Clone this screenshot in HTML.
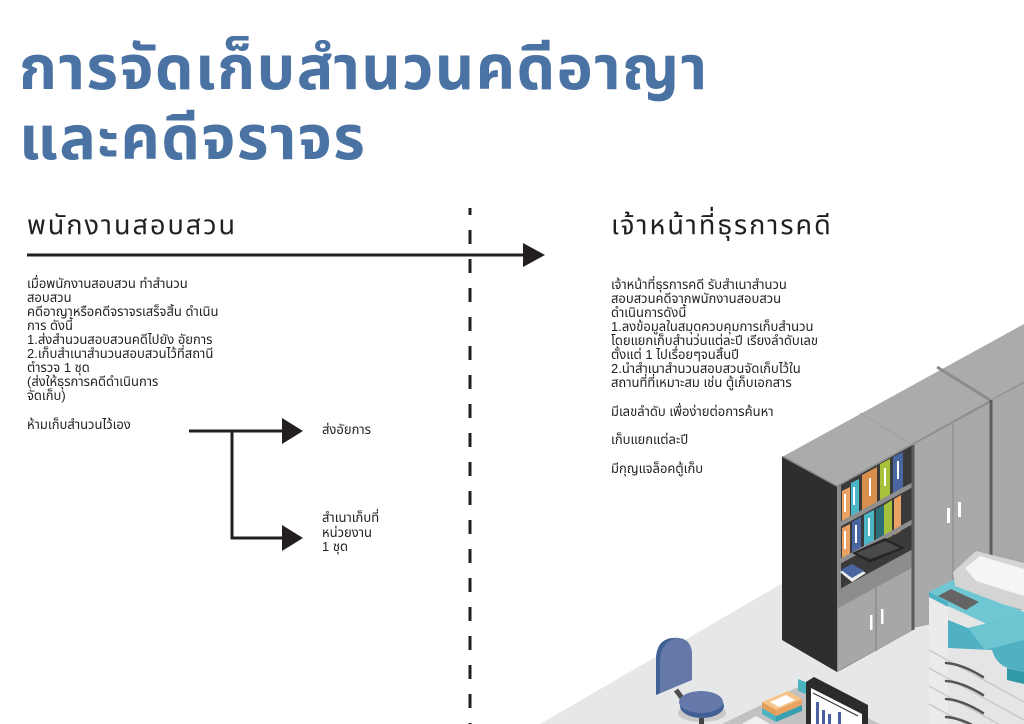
<!DOCTYPE html>
<html><head><meta charset="utf-8">
<style>
html,body{margin:0;padding:0;background:#fff;}
#wrap{position:relative;width:1024px;height:724px;overflow:hidden;background:#fff;
font-family:"Liberation Sans","Noto Sans Thai","Noto Sans Thai Looped","Garuda","Loma","Tlwg Typo","DejaVu Sans",sans-serif;color:#231f20;}
.t{position:absolute;white-space:nowrap;}
.title{left:19px;font-size:61px;color:#4a73a3;font-weight:bold;line-height:72px;height:72px;letter-spacing:1.4px;}
.h{font-size:27px;line-height:30px;height:30px;color:#231f20;letter-spacing:2px;}
.b{font-size:13px;line-height:14px;height:14px;}
svg{position:absolute;left:0;top:0;}
</style></head><body>
<div id="wrap">
<svg width="1024" height="724" viewBox="0 0 1024 724">
 <!-- floor -->
 <polygon points="540,724 1024,443 1024,724" fill="#e6e7e8"/>
 <!-- cabinet top -->
 <polygon points="782,457 1024,324 1024,383 837,487" fill="#ababab"/>
 <line x1="782" y1="457" x2="837" y2="487" stroke="#8a8a8a" stroke-width="3"/>
 <line x1="837" y1="487" x2="1024" y2="383" stroke="#8f8f8f" stroke-width="3"/>
 <line x1="860" y1="413" x2="913" y2="445" stroke="#a0a0a0" stroke-width="1"/>
 <line x1="937" y1="367" x2="990" y2="400" stroke="#8c8c8c" stroke-width="3"/>
 <!-- bookcase dark side -->
 <polygon points="782,457 837,487 837,672 782,640" fill="#2e2e2e"/>
 <!-- bookcase interior -->
 <polygon points="837,487 913,445 913,630 837,672" fill="#3a3a3a"/>
 <polygon points="837,487 841,485 841,670 837,672" fill="#8a8a8a"/>
 <!-- row 1 binders -->
 <g>
  <polygon points="842,491 850,487 850,519 842,523" fill="#e9a164"/>
  <rect x="844" y="494" width="2" height="18" fill="#fff"/>
  <polygon points="851,483 859,479 859,514 851,518" fill="#4db6c6"/>
  <rect x="853" y="487" width="2" height="18" fill="#fff"/>
  <polygon points="862,475 877,467 877,503 862,511" fill="#d88f4e"/>
  <rect x="869" y="478" width="2" height="18" fill="#fff"/>
  <polygon points="880,464 890,459 890,496 880,501" fill="#a6c23b"/>
  <rect x="884" y="468" width="2" height="18" fill="#fff"/>
  <polygon points="893,457 903,452 903,489 893,494" fill="#4a66a0"/>
  <rect x="897" y="461" width="2" height="18" fill="#fff"/>
 </g>
 <polygon points="838,523 913,482 913,487 838,528" fill="#8e8e8e"/>
 <!-- row 2 binders -->
 <g>
  <polygon points="842,528 850,524 850,556 842,560" fill="#e9a164"/>
  <rect x="844" y="531" width="2" height="18" fill="#fff"/>
  <polygon points="852,522 861,517 861,550 852,555" fill="#4a66a0"/>
  <rect x="855" y="525" width="2" height="18" fill="#fff"/>
  <polygon points="864,515 874,510 874,545 864,550" fill="#4db6c6"/>
  <rect x="868" y="518" width="2" height="18" fill="#fff"/>
  <polygon points="876,509 884,505 884,540 876,544" fill="#2a6f78"/>
  <polygon points="884,505 892,500 892,536 884,540" fill="#a6c23b"/>
  <polygon points="894,499 901,495 901,531 894,535" fill="#e9a164"/>
 </g>
 <polygon points="838,560 913,519 913,524 838,565" fill="#8e8e8e"/>
 <!-- row 3 -->
 <polygon points="852,553 885,538 905,548 870,563" fill="#262626"/>
 <polygon points="856,553 885,541 900,548 870,559" fill="#4a4a4a"/>
 <polygon points="840,572 852,565 866,573 852,582" fill="#eeeeee"/>
 <polygon points="841,570 852,564 864,571 852,578" fill="#4a66a0"/>
 <!-- lower shelf surface and doors -->
 <polygon points="838,590 913,549 913,567 838,608" fill="#8d8d8d"/>
 <polygon points="838,608 913,567 913,630 838,671" fill="#a7a7a7"/>
 <line x1="876" y1="588" x2="876" y2="651" stroke="#8a8a8a" stroke-width="1.5"/>
 <rect x="870" y="615" width="2.5" height="15" fill="#fff"/>
 <rect x="881" y="609" width="2.5" height="15" fill="#fff"/>
 <!-- tall cabinet -->
 <polygon points="913,445 990,403 990,612 913,628" fill="#a9a9a9"/>
 <line x1="913" y1="445" x2="913" y2="630" stroke="#5a5a5a" stroke-width="3"/>
 <line x1="953" y1="424" x2="953" y2="620" stroke="#939393" stroke-width="1.5"/>
 <rect x="947" y="508" width="3" height="15" fill="#fff"/>
 <rect x="958" y="502" width="3" height="15" fill="#fff"/>
 <!-- rightmost cabinet -->
 <polygon points="990,401 1024,383 1024,610 990,612" fill="#a8a8a8"/>
 <line x1="991" y1="400" x2="991" y2="612" stroke="#5e5e5e" stroke-width="3"/>
 <!-- copier -->
 <polygon points="929,597 950,586 1024,620 1024,724 929,724" fill="#e5e5e5"/>
 <polygon points="929,597 948,606 948,724 929,724" fill="#ebebeb"/>
 <g stroke="#c9c9c9" stroke-width="1.5">
  <line x1="929" y1="650" x2="1024" y2="702"/>
  <line x1="929" y1="668" x2="1024" y2="720"/>
  <line x1="929" y1="686" x2="1024" y2="738"/>
  <line x1="929" y1="704" x2="1024" y2="756"/>
 </g>
 <g stroke="#555" stroke-width="2.5" fill="none" stroke-linecap="round">
  <path d="M946,663 Q962,664 983,677"/>
  <path d="M946,681 Q962,682 983,695"/>
  <path d="M946,699 Q962,700 983,713"/>
  <path d="M946,717 Q962,718 983,731"/>
 </g>
 <!-- teal top plate -->
 <polygon points="929,592 953,580 1024,612 1024,626 1000,630 948,606" fill="#6ec7d3"/>
 <polygon points="929,592 948,602 948,607 929,597" fill="#4eb2c2"/>
 <polygon points="938,596 951,589 979,602 966,610" fill="#646464"/>
 <!-- teal body -->
 <path d="M948,620 L968,628 L1024,614 L1024,672 L1008,668 Q996,664 992,650 L948,648 Z" fill="#4fb1c2"/>
 <path d="M968,628 L1024,614 L1024,640 L985,650 Z" fill="#6cc5d1"/>
 <polygon points="1007,668 1024,672 1024,684 1007,680" fill="#2f9aa6"/>
 <!-- scanner -->
 <polygon points="953,572 976,551 1024,563 1024,610 1005,605 955,586" fill="#d4d4d4"/>
 <polygon points="965,568 980,556 1024,569 1024,596 976,581" fill="#f5f5f5"/>
 <!-- chair -->
 <line x1="676" y1="690" x2="688" y2="706" stroke="#4d4d4d" stroke-width="5"/>
 <path d="M656,695 L656,660 Q656,640 672,638 Q690,636 692,652 L692,680 Z" fill="#6478a9"/>
 <path d="M656,695 L656,660 Q656,640 672,638 L676,638 Q661,642 660,660 L660,693 Z" fill="#3f5f95"/>
 <ellipse cx="702" cy="713" rx="24" ry="9" fill="#c9c9c9"/>
 <ellipse cx="702" cy="706" rx="22" ry="12" fill="#3f5f95"/>
 <ellipse cx="701" cy="702" rx="22" ry="11" fill="#6478a9"/>
 <rect x="699" y="718" width="5" height="6" fill="#444"/>
 <!-- desk -->
 <polygon points="722,724 800,686 880,724" fill="#c2c2c2"/>
 <polygon points="742,724 756,716 770,724" fill="#f0f0f0"/>
 <!-- books -->
 <polygon points="762,702 788,691 802,699 776,710" fill="#f6c489"/>
 <polygon points="770,702 786,695 795,700 779,707" fill="#fff"/>
 <polygon points="762,702 776,710 776,716 762,708" fill="#e59e58"/>
 <polygon points="776,710 802,699 802,705 776,716" fill="#eba462"/>
 <polygon points="762,708 776,716 776,722 762,714" fill="#4bb3c1"/>
 <polygon points="776,716 802,705 802,711 776,722" fill="#3a9fae"/>
 <!-- monitor -->
 <polygon points="798,679 808,683 808,695 798,691" fill="#4bb3c1"/>
 <polygon points="806,682 814,677 868,705 868,724 806,724" fill="#2b2b2b"/>
 <polygon points="811,688 862,714 862,724 811,724" fill="#fff"/>
 <line x1="813" y1="693" x2="858" y2="716" stroke="#333" stroke-width="1"/>
 <g fill="#4a5f9f">
  <rect x="816" y="702" width="3" height="22"/>
  <rect x="822" y="710" width="3" height="14"/>
  <rect x="828" y="714" width="3" height="10"/>
  <rect x="838" y="712" width="3" height="12"/>
 </g>
 <!-- connectors -->
 <line x1="470" y1="208" x2="470" y2="724" stroke="#231f20" stroke-width="3" stroke-dasharray="14 15" stroke-dashoffset="7"/>
 <line x1="27" y1="255" x2="526" y2="255" stroke="#231f20" stroke-width="3"/>
 <polygon points="523,243 545,255 523,267" fill="#231f20"/>
 <line x1="189" y1="431" x2="285" y2="431" stroke="#231f20" stroke-width="3"/>
 <polygon points="282,418 303,431 282,444" fill="#231f20"/>
 <line x1="232" y1="431" x2="232" y2="539.5" stroke="#231f20" stroke-width="3"/>
 <line x1="230.5" y1="538" x2="285" y2="538" stroke="#231f20" stroke-width="3"/>
 <polygon points="282,525 303,538 282,551" fill="#231f20"/>
</svg>

<div class="t title" style="top:32px;">การจัดเก็บสำนวนคดีอาญา</div>
<div class="t title" style="top:102px;">และคดีจราจร</div>

<div class="t h" style="left:27px;top:210px;">พนักงานสอบสวน</div>
<div class="t h" style="left:611px;top:210px;">เจ้าหน้าที่ธุรการคดี</div>

<div class="t b" style="left:27px;top:277px;">เมื่อพนักงานสอบสวน ทำสำนวน</div>
<div class="t b" style="left:27px;top:291px;">สอบสวน</div>
<div class="t b" style="left:27px;top:305px;">คดีอาญาหรือคดีจราจรเสร็จสิ้น ดำเนิน</div>
<div class="t b" style="left:27px;top:319px;">การ ดังนี้</div>
<div class="t b" style="left:27px;top:333px;">1.ส่งสำนวนสอบสวนคดีไปยัง อัยการ</div>
<div class="t b" style="left:27px;top:347px;">2.เก็บสำเนาสำนวนสอบสวนไว้ที่สถานี</div>
<div class="t b" style="left:27px;top:361px;">ตำรวจ 1 ชุด</div>
<div class="t b" style="left:27px;top:375px;">(ส่งให้ธุรการคดีดำเนินการ</div>
<div class="t b" style="left:27px;top:389px;">จัดเก็บ)</div>
<div class="t b" style="left:27px;top:418px;">ห้ามเก็บสำนวนไว้เอง</div>

<div class="t b" style="left:322px;top:423px;">ส่งอัยการ</div>
<div class="t b" style="left:322px;top:511px;">สำเนาเก็บที่</div>
<div class="t b" style="left:322px;top:526px;">หน่วยงาน</div>
<div class="t b" style="left:322px;top:540px;">1 ชุด</div>

<div class="t b" style="left:611px;top:278px;">เจ้าหน้าที่ธุรการคดี รับสำเนาสำนวน</div>
<div class="t b" style="left:611px;top:292px;">สอบสวนคดีจากพนักงานสอบสวน</div>
<div class="t b" style="left:611px;top:306px;">ดำเนินการดังนี้</div>
<div class="t b" style="left:611px;top:320px;">1.ลงข้อมูลในสมุดควบคุมการเก็บสำนวน</div>
<div class="t b" style="left:611px;top:334px;">โดยแยกเก็บสำนว่นแต่ละปี เรียงลำดับเลข</div>
<div class="t b" style="left:611px;top:348px;">ตั้งแต่ 1 ไปเรื่อยๆจนสิ้นปี</div>
<div class="t b" style="left:611px;top:362px;">2.นำสำเนาสำนวนสอบสวนจัดเก็บไว้ใน</div>
<div class="t b" style="left:611px;top:376px;">สถานที่ที่เหมาะสม เช่น ตู้เก็บเอกสาร</div>
<div class="t b" style="left:611px;top:405px;">มีเลขลำดับ เพื่อง่ายต่อการค้นหา</div>
<div class="t b" style="left:611px;top:433px;">เก็บแยกแต่ละปี</div>
<div class="t b" style="left:611px;top:462px;">มีกุญแจล็อคตู้เก็บ</div>
</div>
</body></html>
